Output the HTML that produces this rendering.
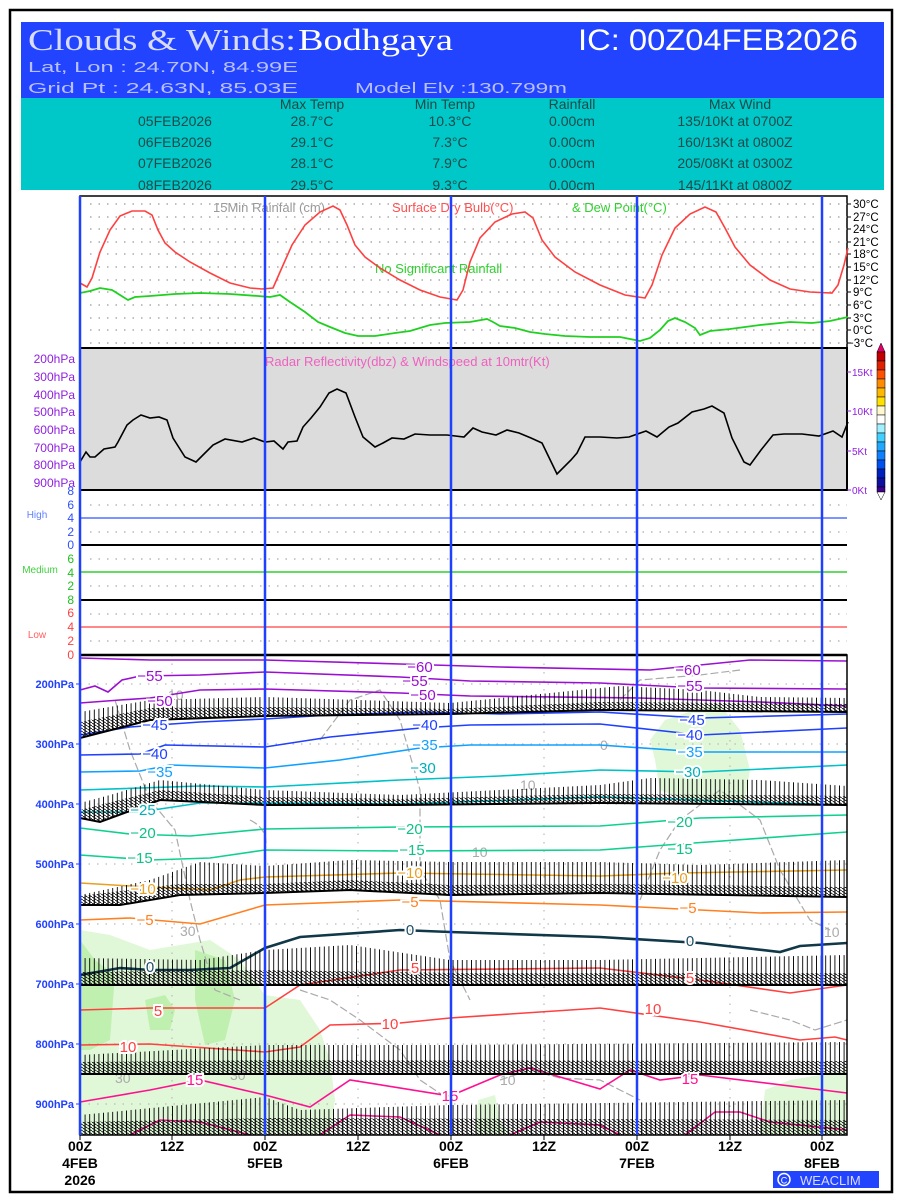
<!DOCTYPE html>
<html><head><meta charset="utf-8"><style>html,body{margin:0;padding:0;background:#fff}svg{display:block}</style></head>
<body>
<svg width="900" height="1200" viewBox="0 0 900 1200" xmlns="http://www.w3.org/2000/svg" font-family="Liberation Sans, sans-serif">
<defs>
<pattern id="ws" patternUnits="userSpaceOnUse" width="4.6" height="8">
<path d="M2.3,0 V8" stroke="#000" stroke-width="0.9" fill="none"/>
</pattern>
<pattern id="wd" patternUnits="userSpaceOnUse" width="4.6" height="3">
<path d="M0,0 L4.6,3 M2.3,0 V3" stroke="#000" stroke-width="0.9" fill="none"/>
</pattern>
</defs>
<rect x="0" y="0" width="900" height="1200" fill="#fff"/>
<rect x="10" y="10" width="882" height="1182" fill="none" stroke="#000" stroke-width="2.5"/>
<!-- header -->
<rect x="21" y="22" width="863" height="77" fill="#2244ff"/>
<rect x="21" y="98" width="863" height="92" fill="#00c8c8"/>
<text x="28" y="50" font-family="Liberation Serif, serif" font-size="31" fill="#d8dcff" textLength="268" lengthAdjust="spacingAndGlyphs">Clouds &amp; Winds:</text>
<text x="298" y="50" font-family="Liberation Serif, serif" font-size="31" fill="#fff" textLength="155" lengthAdjust="spacingAndGlyphs">Bodhgaya</text>
<text x="578" y="50" font-size="30" fill="#fff" textLength="280" lengthAdjust="spacingAndGlyphs">IC: 00Z04FEB2026</text>
<text x="28" y="72" font-size="15" fill="#b8c0ff" textLength="270" lengthAdjust="spacingAndGlyphs">Lat, Lon : 24.70N, 84.99E</text>
<text x="28" y="93" font-size="15" fill="#b8c0ff" textLength="270" lengthAdjust="spacingAndGlyphs">Grid Pt  : 24.63N, 85.03E</text>
<text x="355" y="93" font-size="15" fill="#b8c0ff" textLength="212" lengthAdjust="spacingAndGlyphs">Model Elv :130.799m</text>
<g font-size="14" fill="#1a4a4a" text-anchor="middle">
<text x="312" y="109">Max Temp</text><text x="445" y="109">Min Temp</text><text x="572" y="109">Rainfall</text><text x="740" y="109">Max Wind</text>
<text x="175" y="126">05FEB2026</text><text x="312" y="126">28.7°C</text><text x="450" y="126">10.3°C</text><text x="572" y="126">0.00cm</text><text x="735" y="126">135/10Kt at 0700Z</text>
<text x="175" y="147">06FEB2026</text><text x="312" y="147">29.1°C</text><text x="450" y="147">7.3°C</text><text x="572" y="147">0.00cm</text><text x="735" y="147">160/13Kt at 0800Z</text>
<text x="175" y="168">07FEB2026</text><text x="312" y="168">28.1°C</text><text x="450" y="168">7.9°C</text><text x="572" y="168">0.00cm</text><text x="735" y="168">205/08Kt at 0300Z</text>
<text x="175" y="190">08FEB2026</text><text x="312" y="190">29.5°C</text><text x="450" y="190">9.3°C</text><text x="572" y="190">0.00cm</text><text x="735" y="190">145/11Kt at 0800Z</text>
</g>
<rect x="21" y="190" width="863" height="5" fill="#fff"/>

<!-- temp panel -->
<rect x="80" y="196" width="767" height="152" fill="#fff" stroke="#000" stroke-width="1.5"/>
<g stroke="#999" stroke-dasharray="1.5,7" stroke-width="1.2">
<path d="M90,204H847M90,217H847M90,229H847M90,242H847M90,254H847M90,267H847M90,280H847M90,292H847M90,305H847M90,318H847M90,330H847M90,343H847"/>
</g>
<g font-size="11.5" fill="#000">
<text x="853" y="208">30°C</text><text x="853" y="221">27°C</text><text x="853" y="233">24°C</text><text x="853" y="246">21°C</text><text x="853" y="258">18°C</text><text x="853" y="271">15°C</text><text x="853" y="284">12°C</text><text x="853" y="296">9°C</text><text x="853" y="309">6°C</text><text x="853" y="322">3°C</text><text x="853" y="334">0°C</text><text x="847" y="347">−3°C</text>
</g>
<path d="M847,204h4M847,217h4M847,229h4M847,242h4M847,254h4M847,267h4M847,280h4M847,292h4M847,305h4M847,318h4M847,330h4M847,343h4" stroke="#000"/>
<text x="213" y="212" font-size="13" fill="#999">15Min Rainfall (cm)</text>
<text x="392" y="212" font-size="13" fill="#ff5050">Surface Dry Bulb(°C)</text>
<text x="572" y="212" font-size="13" fill="#30d030">&amp; Dew Point(°C)</text>
<text x="375" y="273" font-size="13" fill="#30d030">No Significant Rainfall</text>
<polyline fill="none" stroke="#ff4040" stroke-width="1.6" points="80,283 87,287 92,278 100,252 110,230 120,216 132,211 145,211 152,215 158,230 165,243 175,252 190,262 210,273 230,283 250,288 262,289 273,288 280,272 292,245 305,225 320,212 333,206 340,210 347,225 355,245 365,257 380,268 400,280 420,290 440,297 457,300 463,290 470,262 480,238 495,222 512,214 525,212 533,218 542,240 555,257 575,272 600,285 625,295 645,298 652,285 662,255 675,228 690,214 705,207 716,212 725,228 735,247 750,265 770,280 790,289 810,292 832,293 838,285 844,265 848,248"/>
<polyline fill="none" stroke="#20d020" stroke-width="1.8" points="80,293 90,291 100,288 112,290 120,295 128,300 135,297 150,296 175,294 200,293 230,294 258,296 270,297 280,295 290,302 305,312 318,322 330,327 345,333 358,336 375,336 395,333 410,331 430,325 445,323 470,322 487,319 493,322 500,326 515,328 530,332 545,334 565,336 590,337 620,337 640,341 650,338 660,330 668,321 675,318 685,322 695,328 700,335 710,331 730,329 760,325 790,322 812,323 830,321 848,317"/>

<!-- radar panel -->
<rect x="80" y="348" width="767" height="142" fill="#dcdcdc" stroke="#000" stroke-width="2"/>
<text x="265" y="366" font-size="13" fill="#f060c0">Radar Reflectivity(dbz) &amp; Windspeed at 10mtr(Kt)</text>
<g font-size="12" fill="#9020e0" text-anchor="end">
<text x="75" y="363">200hPa</text><text x="75" y="381">300hPa</text><text x="75" y="399">400hPa</text><text x="75" y="416">500hPa</text><text x="75" y="434">600hPa</text><text x="75" y="452">700hPa</text><text x="75" y="469">800hPa</text><text x="75" y="487">900hPa</text>
</g>
<g font-size="10" fill="#9020e0"><text x="852" y="376">15Kt</text><text x="852" y="415">10Kt</text><text x="852" y="455">5Kt</text><text x="852" y="494">0Kt</text></g>
<path d="M847,372h4M847,411h4M847,451h4M847,490h4" stroke="#9020e0"/>
<polyline fill="none" stroke="#000" stroke-width="1.6" points="80,462 86,452 90,457 95,457 104,449 115,447 118,442 127,425 133,420 141,415 150,418 159,417 167,420 173,438 185,457 196,462 205,453 213,445 225,439 242,442 254,438 265,442 274,441 283,449 288,442 297,441 303,427 311,418 320,407 329,393 337,389 346,393 355,417 363,437 375,447 383,443 392,438 404,439 415,434 430,435 447,435 464,437 473,428 482,432 496,435 507,430 519,433 531,438 542,443 557,474 571,460 577,453 585,437 600,437 617,438 629,437 646,431 657,437 669,427 678,423 692,412 704,409 712,406 724,413 732,438 744,462 750,465 761,450 773,435 784,434 802,434 819,436 833,431 842,437 848,422"/>
<!-- colorbar -->
<g stroke="#000" stroke-width="0.5">
<path d="M877,352 L881,343 L885,352Z" fill="#e0006a"/>
<rect x="877" y="352" width="8" height="9" fill="#c00000"/><rect x="877" y="361" width="8" height="9" fill="#e02000"/><rect x="877" y="370" width="8" height="9" fill="#ff5000"/><rect x="877" y="379" width="8" height="9" fill="#ff8c00"/><rect x="877" y="388" width="8" height="9" fill="#ffb800"/><rect x="877" y="397" width="8" height="9" fill="#ffe000"/><rect x="877" y="406" width="8" height="9" fill="#fff8d0"/><rect x="877" y="415" width="8" height="9" fill="#fff"/><rect x="877" y="424" width="8" height="9" fill="#a0f0ff"/><rect x="877" y="433" width="8" height="9" fill="#40d0ff"/><rect x="877" y="442" width="8" height="9" fill="#20a8ff"/><rect x="877" y="451" width="8" height="9" fill="#1080ff"/><rect x="877" y="460" width="8" height="9" fill="#0050f0"/><rect x="877" y="469" width="8" height="9" fill="#0020c0"/><rect x="877" y="478" width="8" height="9" fill="#1010a0"/><rect x="877" y="487" width="8" height="5" fill="#400090"/>
<path d="M877,492 L881,500 L885,492Z" fill="#fff"/>
</g>

<!-- cloud panel -->
<g stroke="#aaa" stroke-dasharray="1.5,7" stroke-width="1.2">
<path d="M90,505H847M90,532H847M90,559H847M90,586H847M90,614H847M90,641H847"/>
</g>
<path d="M80,518H847" stroke="#5070ff" stroke-width="1.5"/>
<path d="M80,572H847" stroke="#30d030" stroke-width="1.5"/>
<path d="M80,627H847" stroke="#ff6060" stroke-width="1.5"/>
<path d="M80,545H847M80,600H847" stroke="#000" stroke-width="2"/>
<path d="M80,490H847" stroke="#000" stroke-width="2"/>
<g font-size="12" text-anchor="end">
<g fill="#3050ff"><text x="74" y="495">8</text><text x="74" y="509">6</text><text x="74" y="522">4</text><text x="74" y="536">2</text><text x="74" y="549">0</text></g>
<g fill="#20c020"><text x="74" y="563">6</text><text x="74" y="577">4</text><text x="74" y="590">2</text><text x="74" y="604">8</text></g>
<g fill="#ff4040"><text x="74" y="617">6</text><text x="74" y="631">4</text><text x="74" y="645">2</text><text x="74" y="659">0</text></g>
</g>
<text x="37" y="518" font-size="10" fill="#6080ff" text-anchor="middle">High</text>
<text x="40" y="573" font-size="10" fill="#40d040" text-anchor="middle">Medium</text>
<text x="37" y="638" font-size="10" fill="#ff6060" text-anchor="middle">Low</text>

<!-- bottom panel -->
<rect x="80" y="655" width="767" height="480" fill="#fff"/>
<g fill="#e0f8d8">
<path d="M80,930 L110,935 L150,950 L180,945 L210,940 L240,960 L265,995 L300,1000 L320,1030 L330,1060 L335,1100 L330,1135 L80,1135Z"/>
<path d="M660,790 L655,760 L650,740 L665,720 L680,715 L700,708 L720,705 L740,730 L750,770 L745,800 L700,805Z"/>
<path d="M760,1135 L765,1090 L790,1080 L820,1075 L847,1070 L847,1135Z"/>
<path d="M475,1135 L478,1100 L495,1095 L500,1120 L510,1135Z"/>
</g>
<g fill="#c0f0b0">
<path d="M80,940 L95,960 L115,975 L110,1040 L90,1050 L80,1050Z"/>
<path d="M195,950 L225,960 L235,1000 L225,1040 L205,1045 L195,1000Z"/>
<path d="M145,1000 L165,995 L175,1010 L170,1030 L150,1030Z"/>
</g>
<g stroke="#bbb" stroke-dasharray="1.5,7" stroke-width="1.2">
<path d="M80,684H847M80,744H847M80,804H847M80,864H847M80,924H847M80,984H847M80,1044H847M80,1104H847"/>
<path d="M172,655V1135M358,655V1135M544,655V1135M730,655V1135"/>
</g>
<g fill="none" stroke="#aaa" stroke-dasharray="8,3" stroke-width="1.2">
<path d="M115,700 L130,750 L150,800 L175,830 L190,900 L200,940 L215,990 L240,1000"/>
<path d="M250,820 Q270,830 265,850"/>
<path d="M320,740 L350,700 L380,690 L400,720 L420,790 L420,870 L440,900 L450,960 L470,1000"/>
<path d="M300,990 L330,1000 L360,1020 L400,1050 L420,1080 L450,1100"/>
<path d="M500,1080 L530,1070 L560,1078 L600,1080 L620,1090 L640,1100"/>
<path d="M640,900 L660,850 L680,820 L720,790 L760,820 L780,870 L810,920 L830,930"/>
<path d="M750,1010 L790,1020 L815,1030 L847,1020"/>
<path d="M620,700 L640,680 L700,675 L740,670"/>
</g>
<g font-size="14" fill="#aaa"><text x="168" y="700">10</text><text x="180" y="936">30</text><text x="520" y="790">10</text><text x="472" y="857">10</text><text x="600" y="750">0</text><text x="115" y="1083">30</text><text x="230" y="1080">30</text><text x="500" y="1085">10</text><text x="824" y="937">10</text></g>

<!-- isotherms -->
<g fill="none" stroke-width="1.6">
<polyline stroke="#9a10d0" points="80,658 150,660 265,660 400,664 500,667 650,670 750,660 847,661"/>
<polyline stroke="#9a10d0" points="80,690 95,686 108,692 122,680 140,676 200,675 265,672 400,677 470,681 600,683 700,688 847,689"/>
<polyline stroke="#9a10d0" points="80,703 120,700 150,698 200,690 265,689 400,693 470,696 640,698 760,702 847,706"/>
<polyline stroke="#2040ff" points="80,735 130,727 200,722 265,719 330,715 420,712 500,714 600,712 700,718 847,714"/>
<polyline stroke="#2040ff" points="80,755 140,754 165,745 265,747 330,737 420,728 470,725 600,724 700,735 847,728"/>
<polyline stroke="#10a0ff" points="80,772 140,771 170,765 265,768 340,760 420,748 470,745 600,745 700,752 847,752"/>
<polyline stroke="#00c0c8" points="80,790 200,786 265,787 400,780 500,776 600,770 700,772 847,765"/>
<polyline stroke="#00c0c8" points="80,812 140,812 200,803 265,803 400,804 600,797 847,805"/>
<polyline stroke="#10d090" points="80,828 130,834 190,836 265,829 400,827 600,826 700,818 847,815"/>
<polyline stroke="#10d090" points="80,855 150,860 210,858 265,850 400,851 600,850 680,844 847,832"/>
<polyline stroke="#e8a020" points="80,883 130,886 210,890 240,880 265,877 400,873 600,876 680,873 847,870"/>
<polyline stroke="#ff8020" points="80,920 130,918 200,924 265,905 400,900 600,905 760,913 847,912"/>
<polyline stroke="#103848" stroke-width="2.6" points="80,975 120,968 150,970 190,970 230,968 265,948 300,937 400,930 450,932 600,937 700,943 780,952 800,946 847,943"/>
<polyline stroke="#ff4040" points="80,1010 150,1008 265,1008 300,985 400,970 600,968 700,980 790,993 847,985"/>
<polyline stroke="#ff4040" points="80,1045 150,1044 265,1052 300,1047 330,1025 400,1023 450,1018 600,1008 700,1022 800,1040 835,1037 847,1040"/>
<polyline stroke="#ff1090" points="80,1102 150,1090 200,1080 265,1095 310,1107 350,1080 450,1096 500,1075 530,1068 600,1089 630,1070 660,1080 700,1075 847,1093"/>
<polyline stroke="#ff1090" points="130,1135 160,1120 200,1122 250,1135"/>
<polyline stroke="#ff1090" points="320,1135 350,1115 400,1117 440,1135"/>
<polyline stroke="#ff1090" points="510,1135 540,1122 600,1125 620,1135"/>
<polyline stroke="#ff1090" points="685,1135 715,1112 740,1112 770,1122 847,1130"/>
</g>
<!-- wind bands: sparse staffs -->
<g fill="url(#ws)">
<path d="M80,712 L150,700 L265,697 L450,703 L580,690 L620,686 L700,690 L760,697 L847,698 L847,712 L600,710 L450,714 L265,716 L150,720 L80,738Z"/>
<path d="M80,803 L110,795 L160,780 L265,790 L400,795 L600,785 L650,778 L760,780 L847,786 L847,805 L600,803 L400,805 L265,805 L160,800 L100,822 L80,818Z"/>
<path d="M80,895 L150,880 L200,862 L265,866 L350,860 L450,862 L600,862 L700,865 L847,860 L847,897 L700,895 L600,893 L450,895 L350,890 L265,893 L180,895 L120,905 L80,905Z"/>
<path d="M80,958 L200,960 L265,950 L350,945 L450,960 L600,960 L847,955 L847,985 L80,985Z"/>
<path d="M80,1055 L265,1045 L450,1045 L847,1042 L847,1074 L80,1074Z"/>
<path d="M80,1115 L265,1097 L300,1110 L450,1105 L847,1100 L847,1135 L80,1135Z"/>
</g>
<!-- wind bands: dense feathers -->
<g fill="url(#wd)">
<path d="M80,722 L150,708 L265,707 L450,709 L600,702 L847,704 L847,712 L600,710 L450,714 L265,716 L150,720 L80,738Z"/>
<path d="M80,810 L160,790 L265,797 L400,799 L600,794 L847,796 L847,805 L600,803 L400,805 L265,805 L160,800 L100,822 L80,818Z"/>
<path d="M80,896 L180,884 L265,884 L350,880 L450,885 L600,884 L847,887 L847,897 L700,895 L600,893 L450,895 L350,890 L265,893 L180,895 L120,905 L80,905Z"/>
<path d="M80,972 L265,970 L450,973 L847,973 L847,985 L80,985Z"/>
<path d="M80,1062 L265,1060 L847,1061 L847,1074 L80,1074Z"/>
<path d="M80,1122 L265,1118 L847,1120 L847,1135 L80,1135Z"/>
</g>
<g fill="none" stroke="#000" stroke-width="2">
<path d="M80,738 L150,720 L265,716 L450,714 L600,710 L847,712"/>
<path d="M80,818 L100,822 L160,800 L265,805 L400,805 L600,803 L847,805"/>
<path d="M80,905 L120,905 L180,895 L265,893 L350,890 L450,895 L600,893 L847,897"/>
<path d="M80,985 H847 M80,1074 H847"/>
</g>
<!-- contour labels -->
<g font-size="15" text-anchor="middle" stroke="#fff" stroke-width="4" paint-order="stroke">
<g fill="#9a10d0"><text x="420" y="672">−60</text><text x="688" y="675">−60</text><text x="150" y="681">−55</text><text x="415" y="686">−55</text><text x="690" y="691">−55</text><text x="160" y="706">−50</text><text x="423" y="700">−50</text></g>
<g fill="#2040ff"><text x="155" y="730">−45</text><text x="692" y="725">−45</text><text x="155" y="759">−40</text><text x="425" y="730">−40</text><text x="690" y="740">−40</text></g>
<g fill="#10a0ff"><text x="160" y="777">−35</text><text x="425" y="750">−35</text><text x="690" y="757">−35</text></g>
<g fill="#00b0b8"><text x="423" y="773">−30</text><text x="688" y="777">−30</text><text x="143" y="815">−25</text></g>
<g fill="#10c088"><text x="143" y="838">−20</text><text x="410" y="834">−20</text><text x="680" y="827">−20</text><text x="140" y="863">−15</text><text x="412" y="855">−15</text><text x="680" y="854">−15</text></g>
<g fill="#e8a020"><text x="143" y="894">−10</text><text x="410" y="878">−10</text><text x="675" y="883">−10</text></g>
<g fill="#ff8020"><text x="145" y="925">−5</text><text x="410" y="907">−5</text><text x="688" y="913">−5</text></g>
<g fill="#205068"><text x="410" y="935">0</text><text x="690" y="946">0</text><text x="150" y="972">0</text></g>
<g fill="#ff4040"><text x="158" y="1016">5</text><text x="415" y="973">5</text><text x="690" y="983">5</text><text x="128" y="1052">10</text><text x="390" y="1029">10</text><text x="653" y="1014">10</text></g>
<g fill="#ff1090"><text x="195" y="1085">15</text><text x="450" y="1101">15</text><text x="690" y="1084">15</text></g>
</g>
<!-- frame -->
<rect x="80" y="655" width="767" height="480" fill="none" stroke="#000" stroke-width="1.5"/>
<path d="M80,655H847" stroke="#000" stroke-width="2.5"/>
<g font-size="11" font-weight="bold" fill="#2040ff" text-anchor="end">
<text x="74" y="688">200hPa</text><text x="74" y="748">300hPa</text><text x="74" y="808">400hPa</text><text x="74" y="868">500hPa</text><text x="74" y="928">600hPa</text><text x="74" y="988">700hPa</text><text x="74" y="1048">800hPa</text><text x="74" y="1108">900hPa</text>
</g>
<path d="M76,684h4M76,744h4M76,804h4M76,864h4M76,924h4M76,984h4M76,1044h4M76,1104h4" stroke="#2040ff"/>
<!-- day lines -->
<g stroke="#2040ff" stroke-width="2.5"><path d="M80,196V1135M265,196V1135M451,196V1135M637,196V1135M822,196V1135"/></g>
<path d="M80,1135v5M172,1135v5M265,1135v5M358,1135v5M451,1135v5M544,1135v5M637,1135v5M730,1135v5M822,1135v5" stroke="#000"/>
<g font-size="14" font-weight="bold" text-anchor="middle" fill="#000">
<text x="80" y="1151">00Z</text><text x="80" y="1168">4FEB</text><text x="80" y="1185">2026</text>
<text x="172" y="1151">12Z</text>
<text x="265" y="1151">00Z</text><text x="265" y="1168">5FEB</text>
<text x="358" y="1151">12Z</text>
<text x="451" y="1151">00Z</text><text x="451" y="1168">6FEB</text>
<text x="544" y="1151">12Z</text>
<text x="637" y="1151">00Z</text><text x="637" y="1168">7FEB</text>
<text x="730" y="1151">12Z</text>
<text x="822" y="1151">00Z</text><text x="822" y="1168">8FEB</text>
</g>
<rect x="773" y="1171" width="106" height="17" fill="#2244ff"/>
<circle cx="784" cy="1179.5" r="6" fill="none" stroke="#fff" stroke-width="1.5"/>
<text x="784" y="1183.5" font-size="9" fill="#fff" text-anchor="middle">C</text>
<text x="800" y="1185" font-size="13" fill="#d8dcff">WEACLIM</text>
</svg>
</body></html>
